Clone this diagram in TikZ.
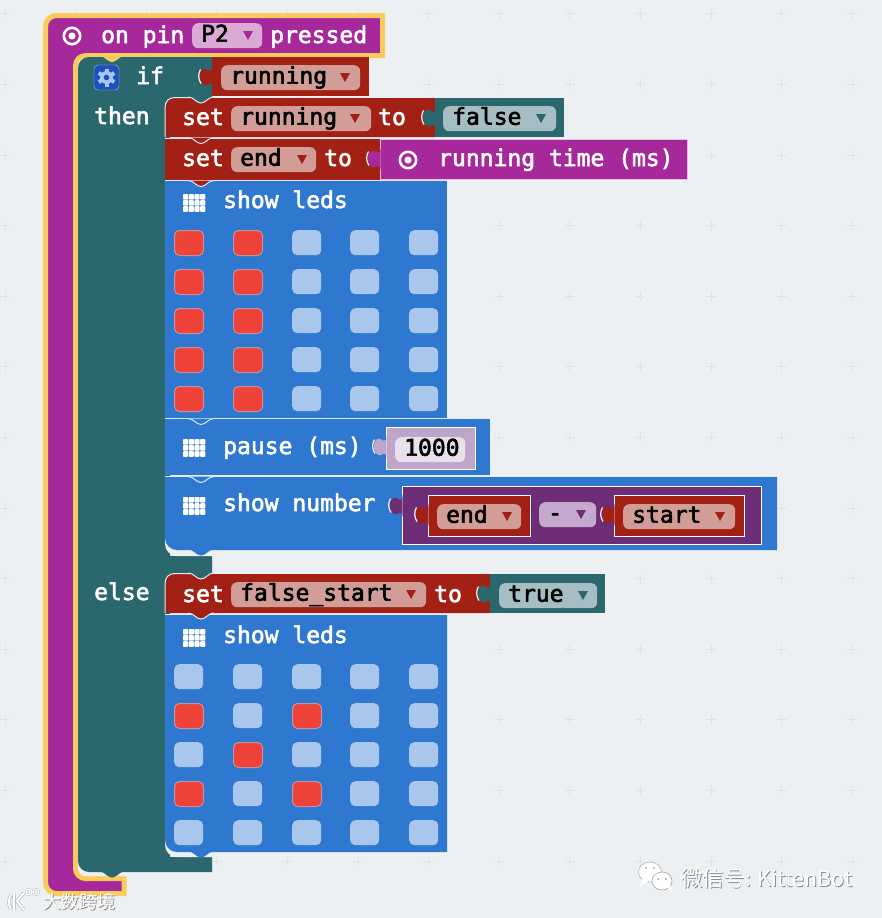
\documentclass[tikz,border=0pt]{standalone}
\usepackage{fontspec}
\newfontfamily\blockfont[FakeBold=2.5]{DejaVu Sans Mono}
\newfontfamily\markfont{Noto Sans CJK SC}
\definecolor{pagegray}{HTML}{ECF0F2}
\definecolor{plusgray}{HTML}{DEE3E6}
\definecolor{hatpurple}{HTML}{A7289A}
\definecolor{hatyellow}{HTML}{F9CB5C}
\definecolor{logicteal}{HTML}{2B686D}
\definecolor{varred}{HTML}{A32015}
\definecolor{basicblue}{HTML}{2F78D0}
\definecolor{ledred}{HTML}{EF4238}
\definecolor{ledoff}{HTML}{A9C6EC}
\definecolor{varfield}{HTML}{D19D96}
\definecolor{pinfield}{HTML}{DBA9D6}
\definecolor{boolfield}{HTML}{A6BEC3}
\definecolor{numlilac}{HTML}{BEA6CA}
\definecolor{numfield}{HTML}{E8E0ED}
\definecolor{mathpurple}{HTML}{6F2C77}
\definecolor{opfield}{HTML}{C4A8CD}
\definecolor{gearblue}{HTML}{1E4FBF}
\tikzset{
  blocktext/.style={anchor=base west, inner sep=0, text=white, font=\blockfont\fontsize{23}{25}\selectfont},
  fieldbox/.style 2 args={anchor=north west, fill=#1, rounded corners=6, inner xsep=9, inner ysep=1.5,
    text=black, text width=#2-18, text height=17, text depth=5, align=left, font=\blockfont\fontsize{23}{25}\selectfont},
  ledbox/.style={anchor=north west, fill=ledoff, rounded corners=5, minimum width=29, minimum height=25, inner sep=0},
  ledon/.style={ledbox, fill=ledred, draw=ledoff!60!ledred, line width=1},
  edgeline/.style={draw=white!85!basicblue, line width=1},
  valueline/.style={draw=white, line width=.9},
  tabfill/.style={fill=#1, edgeline},
  tabpic/.pic={
    \path[pic actions] (-2,0) .. controls (4,0) and (6,6) .. (11,6) .. controls (16,6) and (18,0) .. (24,0);
  },
  knobpic/.pic={
    \path[pic actions] (0.5,-1) -- (0,3) .. controls (-2,4) and (-3,4) .. (-4,3) .. controls (-7,0) and (-12,2) .. (-12,9)
      .. controls (-12,17) and (-7,20) .. (-4,17.5) .. controls (-3,16.5) and (-2,16.5) .. (0,17.5) -- (0.5,21) -- cycle;
    \draw[white!90!gray, line width=1.2] (-11.5,2.5) .. controls (-14,6.5) and (-14,12) .. (-11,16.5);
  },
  droppic/.pic={
    \path[pic actions] (0,0) -- (10,0) -- (5,9) -- cycle;
  },
  gridpic/.pic={
    \foreach \gi in {0,1,2,3}
      \foreach \gj in {0,1,2}
        \fill[white, rounded corners=.8] ({\gi*5.7},{\gj*6.1}) rectangle ++(5.2,5.6);
  },
  ringpic/.pic={
    \draw[white, line width=2.6] (0,0) circle (8.2);
    \fill[white] (0,0) circle (3.6);
  },
}
\begin{document}
\begin{tikzpicture}[x=1pt,y=-1pt]
\useasboundingbox[fill=pagegray] (0,0) rectangle (882,918);

% workspace crosses
\foreach \gx in {0,...,12}
  \foreach \gy in {0,...,12}
    \draw[plusgray, line width=1] ({5+70.6*\gx-5},{13.8+70.6*\gy}) -- ++(10,0) ({5+70.6*\gx},{13.8+70.6*\gy-5}) -- ++(0,10);

% hat block
\filldraw[fill=hatpurple, draw=hatyellow, line width=5] (382.5,15.5) -- (382.5,55.5) [rounded corners=10] -- (75.5,55.5) -- (75.5,878.5) [sharp corners] -- (124,878.5) -- (124,893.5) [rounded corners=11] -- (45.5,893.5) -- (45.5,15.5) [sharp corners] -- cycle;
\pic at (72,36) {ringpic};
\node[blocktext] (pintext) at (101,43) {on pin};
\node[fieldbox={pinfield}{70}] (pinfield) at (192,23) {P2};
\pic[fill=hatpurple] at (243,31) {droppic};
\node[blocktext] (pressedtext) at (270,43) {pressed};

% if block
\fill[pagegray] (78,855) -- (126,855) -- (126,876) [rounded corners=8] -- (78,876) [sharp corners] -- cycle;
\fill[logicteal] (212,57) -- (212,100) -- (170,100) -- (170,556) -- (212,556) -- (212,600) -- (170,600) -- (170,857) -- (212,857) -- (212,872) [rounded corners=11] -- (78,872) -- (78,57) [sharp corners] -- cycle;
\pic[fill=hatyellow] at (101,56) {tabpic};
\pic[fill=logicteal] at (101,871.5) {tabpic};
\node[draw=white!70!gearblue, fill=gearblue, rounded corners=4, minimum width=25, minimum height=25, inner sep=0] (gearbutton) at (106.5,77.5) {};
\fill[ledoff] (gearbutton.center) circle (6.5);
\foreach \ga in {0,60,...,300}
  \fill[ledoff, shift={(gearbutton.center)}, rotate=\ga] (-2,-9) rectangle (2,-5);
\fill[gearblue] (gearbutton.center) circle (2.8);
\node[blocktext] (iftext) at (136,84) {if};
\node[blocktext] (thentext) at (94,124) {then};
\node[blocktext] (elsetext) at (94,600) {else};
\fill[varred] (212,57) rectangle (369,96);
\pic[fill=varred] at (212,67) {knobpic};
\node[fieldbox={varfield}{139}] (ifvar) at (221,65) {running};
\pic[fill=varred] at (340,73) {droppic};

% set running
\fill[varred] (435,98) -- (435,137) -- (165,137) [rounded corners=10] -- (165,98) [sharp corners] -- cycle;
\draw[edgeline] (165,137) -- (165,108) .. controls (165,101) and (169,97.5) .. (175,97.5) -- (190,97.5);
\pic[tabfill=logicteal] at (190,97) {tabpic};
\node[blocktext] (setrunlabel) at (182,125) {set};
\node[fieldbox={varfield}{140}] (setrunvar) at (231,106) {running};
\pic[fill=varred] at (350,114) {droppic};
\node[blocktext] (setruntext) at (378,125) {to};
\fill[logicteal] (435,98) rectangle (564,137);
\pic[fill=logicteal] at (435,108) {knobpic};
\node[fieldbox={boolfield}{113}] (falsefield) at (443,106) {false};
\pic[fill=logicteal] at (536,114) {droppic};

% set end
\fill[varred] (165,139) rectangle (380,180);
\draw[edgeline] (165,138) -- (434,138);
\pic[tabfill=varred] at (190,137.5) {tabpic};
\node[blocktext] (setendlabel) at (182,166) {set};
\node[fieldbox={varfield}{85}] (setendvar) at (231,147) {end};
\pic[fill=varred] at (297,155) {droppic};
\node[blocktext] (setendtext) at (324,166) {to};
\filldraw[fill=hatpurple, draw=white!70!hatpurple, line width=.9] (380,139) rectangle (687,179);
\pic[fill=hatpurple] at (380,149) {knobpic};
\pic at (408,160) {ringpic};
\node[blocktext] (timetext) at (438,166) {running time (ms)};

% show leds, first
\fill[basicblue] (165,181) rectangle (447,418);
\draw[edgeline] (165,180.5) -- (447,180.5);
\pic[tabfill=varred] at (190,180.5) {tabpic};
\pic at (183,194) {gridpic};
\node[blocktext] (ledstext) at (223,208) {show leds};
\foreach \cx in {174,233,292,350,409}
  \foreach \ry in {230,269,308,347,386}
    \node[ledbox] (lamp\cx-\ry) at (\cx,\ry) {};
\foreach \cx in {174,233}
  \foreach \ry in {230,269,308,347,386}
    \node[ledon] (lampon\cx-\ry) at (\cx,\ry) {};

% pause
\fill[basicblue] (165,419) rectangle (490,475);
\draw[edgeline] (165,418.5) -- (490,418.5);
\pic[tabfill=basicblue] at (190,418.5) {tabpic};
\pic at (183,439) {gridpic};
\node[blocktext] (pausetext) at (223,454) {pause (ms)};
\filldraw[fill=numlilac, valueline] (386,427) rectangle (475,469);
\pic[fill=numlilac] at (386,437) {knobpic};
\node[fieldbox={numfield}{70}] (numfield) at (395,437) {1000};

% show number
\fill[pagegray] (165,530) -- (212,530) -- (212,556) [rounded corners=12] -- (165,556) [sharp corners] -- cycle;
\fill[basicblue] (165,477) -- (777,477) -- (777,550) [rounded corners=12] -- (165,550) [sharp corners] -- cycle;
\draw[edgeline] (165,476.5) -- (777,476.5);
\pic[tabfill=basicblue] at (190,476.5) {tabpic};
\pic[fill=basicblue] at (190,549.5) {tabpic};
\pic at (183,497) {gridpic};
\node[blocktext] (numbertext) at (223,511) {show number};
\filldraw[fill=mathpurple, valueline] (402,486) rectangle (761,544);
\pic[fill=mathpurple] at (402,496) {knobpic};
\filldraw[fill=varred, valueline] (428,495) rectangle (530,536);
\pic[fill=varred] at (428,505) {knobpic};
\node[fieldbox={varfield}{84}] (endfield) at (437,504) {end};
\pic[fill=varred] at (502,512) {droppic};
\node[fieldbox={opfield}{57}] (opfield) at (539,502) {-};
\pic[fill=mathpurple] at (576,510) {droppic};
\filldraw[fill=varred, valueline] (614,495) rectangle (744,536);
\pic[fill=varred] at (614,505) {knobpic};
\node[fieldbox={varfield}{112}] (startfield) at (623,504) {start};
\pic[fill=varred] at (715,512) {droppic};

% set false_start
\fill[varred] (490,574) -- (490,613) -- (165,613) [rounded corners=10] -- (165,574) [sharp corners] -- cycle;
\draw[edgeline] (165,613) -- (165,584) .. controls (165,577) and (169,573.5) .. (175,573.5) -- (190,573.5);
\pic[tabfill=logicteal] at (190,573) {tabpic};
\node[blocktext] (setfalselabel) at (182,602) {set};
\node[fieldbox={varfield}{195}] (falsestart) at (231,582) {false\_start};
\pic[fill=varred] at (406,590) {droppic};
\node[blocktext] (setfalsetext) at (434,602) {to};
\fill[logicteal] (490,574) rectangle (605,613);
\pic[fill=logicteal] at (490,584) {knobpic};
\node[fieldbox={boolfield}{98}] (truefield) at (499,583) {true};
\pic[fill=logicteal] at (578,591) {droppic};

% show leds, second
\fill[pagegray] (165,830) -- (212,830) -- (212,857) [rounded corners=12] -- (165,857) [sharp corners] -- cycle;
\fill[basicblue] (165,615) -- (447,615) -- (447,852) [rounded corners=12] -- (165,852) [sharp corners] -- cycle;
\draw[edgeline] (165,614.5) -- (447,614.5);
\pic[tabfill=varred] at (190,613) {tabpic};
\pic[fill=basicblue] at (190,851.5) {tabpic};
\pic at (183,629) {gridpic};
\node[blocktext] (ledstexttwo) at (223,643) {show leds};
\foreach \cx in {174,233,292,350,409}
  \foreach \ry in {664,703,742,781,820}
    \node[ledbox] (bulb\cx-\ry) at (\cx,\ry) {};
\foreach \cx/\ry in {174/703,292/703,233/742,174/781,292/781}
  \node[ledon] (bulbon\cx-\ry) at (\cx,\ry) {};

% watermarks
\foreach \mx/\my/\mc in {.9/.9/gray!90,0/0/white} {
  \node[text=\mc, inner sep=0, font=\markfont\fontsize{18}{20}\selectfont] (cornermark\mc) at (79.5+\mx,902+\my) {大数跨境};
  \node[anchor=west, text=\mc, inner sep=0, font=\markfont\fontsize{21.4}{23}\selectfont] (wechatmark\mc) at (681+\mx,878+\my) {微信号: KittenBot};
}
\foreach \lc/\lw in {gray!70/3,white/2} {
  \draw[\lc, line width=\lw, line join=round] (14,893) -- (14,910) (24,893) -- (17,901) -- (24,910) (11,895) .. controls (8,899) and (8,905) .. (11,909);
  \draw[\lc, line width=\lw*.6] (29,892) circle (3) (36,892) circle (3);
}
\filldraw[fill=white, draw=gray!60, line width=.6] (650,872) ellipse (11.5 and 10);
\fill[white] (642,879) -- (640,887) -- (648,881) -- cycle;
\filldraw[fill=white, draw=gray!70, line width=.6] (662,881) ellipse (10 and 9);
\fill[white] (667,887) -- (672,892) -- (670,885) -- cycle;
\fill[gray] (646,868) circle (.9) (654,868) circle (.9) (658,879) circle (.8) (666,879) circle (.8);
\end{tikzpicture}
\end{document}
